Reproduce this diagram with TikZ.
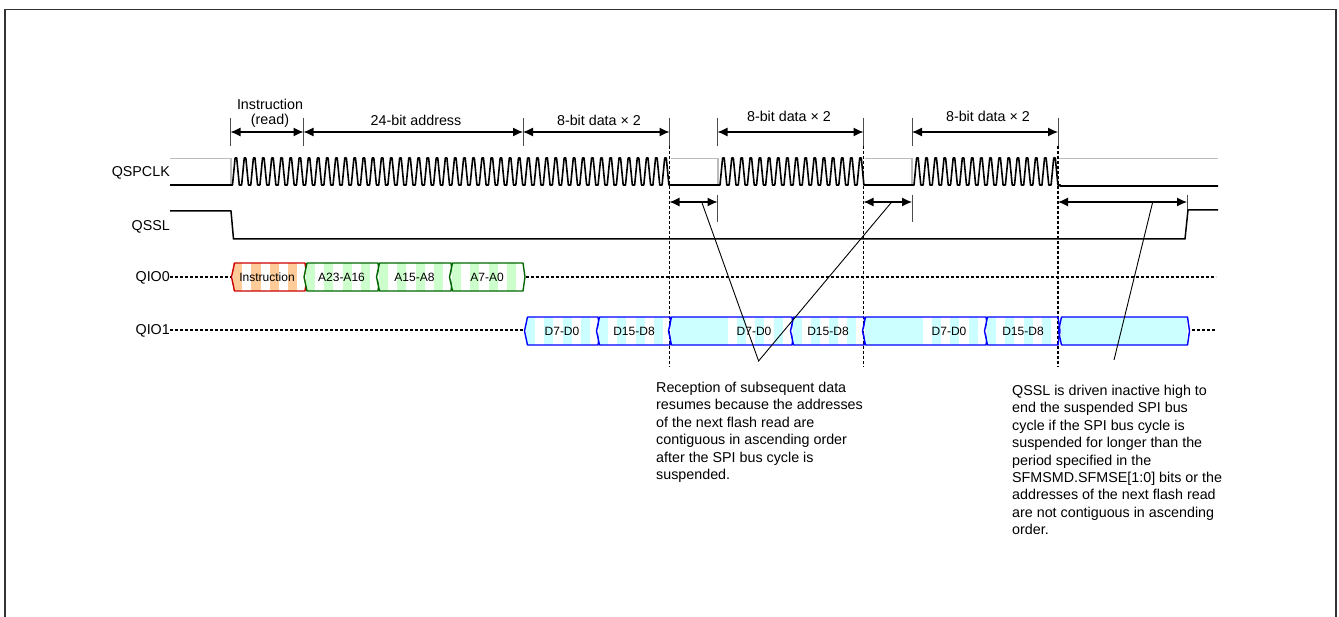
\documentclass[tikz,border=0pt]{standalone}
\usepackage{fontspec}
\setmainfont{Liberation Sans}
\usepackage{xcolor}
\usetikzlibrary{arrows.meta}
\definecolor{clkgrey}{HTML}{BBBBBB}
\definecolor{instred}{HTML}{CC0000}
\definecolor{instorange}{HTML}{FFCC99}
\definecolor{addrgreen}{HTML}{006600}
\definecolor{addrlight}{HTML}{CCFFCC}
\definecolor{datablue}{HTML}{0000FF}
\definecolor{datalight}{HTML}{CCFFFF}
\newcommand{\busseg}[9]{%
  % #1 name, #2 left, #3 right, #4 top, #5 bottom, #6 line, #7 stripe, #8 stripe starts, #9 label at
  \foreach \s in {#8} {\fill[#7] (\s,#4) rectangle (\s+9.3,#5);}
  \draw[#6,line width=1.4pt,line join=round] (#2+1.5,#4) -- (#3,#4) -- (#3+2,{(#4+#5)/2}) -- (#3,#5) -- (#2+1.5,#5) -- (#2-1.5,{(#4+#5)/2}) -- cycle;
  \coordinate (#1) at (#9,{(#4+#5)/2});
}
\begin{document}
\begin{tikzpicture}[x=1pt,y=-1pt,
      siglabel/.style={font=\fontsize{14.3}{17.4}\selectfont,anchor=east,inner sep=0pt},
      dimlabel/.style={font=\fontsize{14.3}{15}\selectfont,align=center,inner sep=0pt},
      buslabel/.style={font=\fontsize{12}{14}\selectfont,inner sep=0pt},
      notetext/.style={font=\fontsize{14.3}{17.4}\selectfont,align=left,anchor=north west,inner sep=0pt},
      clk/.style={line width=1.6pt,line join=round},
      clkhigh/.style={clkgrey,line width=1.4pt},
      sig/.style={line width=1.5pt,line join=round},
      tick/.style={draw=black!70,line width=0.9pt},
      dotline/.style={line width=1.4pt,dash pattern=on 2.6pt off 2.4pt},
      dim/.style={{Latex[length=10pt,width=9pt]}-{Latex[length=10pt,width=9pt]},line width=1.2pt},
      lead/.style={line width=0.9pt}]
    \useasboundingbox (0,0) rectangle (1339,617);
    %% ── Frame ────────────────────────────────────────────────
    \draw[line width=1.5pt,black!80] (5,617) -- (5,9.5) -- (1336,9.5) -- (1336,617);
    %% ── Signal names ─────────────────────────────────────────
    \node[siglabel] (qspclk) at (170,172.5) {QSPCLK};
    \node[siglabel] (qssl)   at (170,226.5) {QSSL};
    \node[siglabel] (qio0)   at (170,278) {QIO0};
    \node[siglabel] (qio1)   at (170,331) {QIO1};
    %% ── Marks and time points ───────────────────────────────
    \foreach \n/\x in {a/230.5,b/303.5,c/523,d/669.5,e/717.5,f/863.5,g/912,h/1058} {
      \coordinate (top\n) at (\x,118);
      \coordinate (mid\n) at (\x,132);
      \coordinate (bot\n) at (\x,146);
      \coordinate (lowtop\n) at (\x,195);
      \coordinate (low\n) at (\x,202);
      \coordinate (lowbot\n) at (\x,222);
      \coordinate (end\n) at (\x,367);
      \draw[tick] (top\n) -- (bot\n);
    }
    \draw[tick] (lowtope) -- (lowbote);
    \draw[tick] (lowtopg) -- (lowbotg);
    \coordinate (lowtopi) at (1187,195);
    \coordinate (lowi)    at (1187,202);
    \coordinate (lowboti) at (1187,211);
    \draw[tick] (lowtopi) -- (lowboti);
    %% ── Clock high level (grey) ─────────────────────────────
    \draw[clkhigh] (170,158.5) -- (231,158.5) -- (231,184);
    \draw[clkhigh] (671,158.5) -- (718,158.5) -- (718,184);
    \draw[clkhigh] (865,158.5) -- (912,158.5) -- (912,184);
    \draw[clkhigh] (1059,158.5) -- (1218,158.5);
    %% ── Clock ────────────────────────────────────────────────
    \draw[clk] (170,185) -- (232.5,185) \foreach \k in {1,...,48} {-- ++(2.6,-27) -- ++(1.6,0) -- ++(2.6,27) -- ++(2.34,0)} coordinate (clkenda);
    \draw[clk] (clkenda) -- (720,185) \foreach \k in {1,...,16} {-- ++(2.6,-27) -- ++(1.6,0) -- ++(2.6,27) -- ++(2.34,0)} coordinate (clkendb);
    \draw[clk] (clkendb) -- (914,185) \foreach \k in {1,...,16} {-- ++(2.6,-27) -- ++(1.6,0) -- ++(2.6,27) -- ++(2.34,0)} -- (1060,186) -- (1218,186);
    %% ── QSSL ─────────────────────────────────────────────────
    \draw[sig] (170,211) -- (231,211) -- (233.5,239) -- (1185,239) -- (1188,210) -- (1218,210);
    %% ── QIO0 / QIO1 dotted levels ───────────────────────────
    \draw[dotline] ([yshift=1pt]qio0.east) -- (231,277);
    \draw[dotline] (526,277) -- (1216,277);
    \draw[dotline] ([yshift=1pt]qio1.east) -- (524,330);
    \draw[dotline] (1192,330) -- (1216,330);
    %% ── Vertical dotted guides ──────────────────────────────
    \draw[dotline] (botd) -- (endd);
    \draw[dotline] (botf) -- (endf);
    \draw[dotline] (both) -- (endh);
    %% ── QIO0 bus ─────────────────────────────────────────────
    \busseg{busi}{233}{305}{263}{291}{instred}{instorange}{233,251.3,269.6,287.9}{267}
    \busseg{busa}{305.5}{378}{263}{291}{addrgreen}{addrlight}{306,324,342.5,361}{341.5}
    \busseg{busb}{378}{451}{263}{291}{addrgreen}{addrlight}{379,397,415.5,434}{414.5}
    \busseg{busc}{451}{523}{263}{291}{addrgreen}{addrlight}{452,470,488.5,507}{487}
    \node[buslabel] (txti) at (busi) {Instruction};
    \node[buslabel] (txta) at (busa) {A23-A16};
    \node[buslabel] (txtb) at (busb) {A15-A8};
    \node[buslabel] (txtc) at (busc) {A7-A0};
    %% ── QIO1 bus ─────────────────────────────────────────────
    \busseg{busd}{526}{598}{317}{345}{datablue}{datalight}{526,544,562.5,581}{562}
    \busseg{buse}{598}{670}{317}{345}{datablue}{datalight}{599,617,635.5,654}{634}
    \busseg{busf}{670}{792}{317}{345}{datablue}{datalight}{671,680,689,698,707,716,719,737,755,774}{754}
    \busseg{busg}{792}{864}{317}{345}{datablue}{datalight}{792.5,810.5,829,847}{828}
    \busseg{bush}{864}{986}{317}{345}{datablue}{datalight}{865,874,883,892,901,910,914,932,950,969}{949}
    \busseg{busj}{986}{1058}{317}{345}{datablue}{datalight}{987,1005,1023.5,1042}{1023}
    \busseg{busk}{1060}{1187.5}{317}{345}{datablue}{datalight}{1061,1070,1079,1088,1097,1106,1115,1124,1133,1142,1151,1160,1169,1178}{1120}
    \node[buslabel] (txtd) at (busd) {D7-D0};
    \node[buslabel] (txte) at (buse) {D15-D8};
    \node[buslabel] (txtf) at (busf) {D7-D0};
    \node[buslabel] (txtg) at (busg) {D15-D8};
    \node[buslabel] (txth) at (bush) {D7-D0};
    \node[buslabel] (txtj) at (busj) {D15-D8};
    %% ── Dimension arrows ─────────────────────────────────────
    \draw[dim] (mida) -- (midb);
    \draw[dim] (midb) -- (midc);
    \draw[dim] (midc) -- (midd);
    \draw[dim] (mide) -- (midf);
    \draw[dim] (midg) -- (midh);
    \draw[dim] (lowd) -- (lowe);
    \draw[dim] (lowf) -- (lowg);
    \draw[dim] (lowh) -- (lowi);
    %% ── Dimension labels ─────────────────────────────────────
    \node[dimlabel] (instlbl) at (270,113) {Instruction\\(read)};
    \node[dimlabel] (addrlbl) at (416,120) {24-bit address};
    \node[dimlabel] (dataa)   at (599,120) {8-bit data × 2};
    \node[dimlabel] (datab)   at (789,116) {8-bit data × 2};
    \node[dimlabel] (datac)   at (988,116) {8-bit data × 2};
    %% ── Leader lines and notes ──────────────────────────────
    \coordinate (leadfrom) at (701.7,202);
    \coordinate (leadfromb) at (891.7,202);
    \coordinate (leadfromc) at (1152.7,202);
    \coordinate (leadto) at (758.6,361);
    \coordinate (leadtoc) at (1114,360);
    \draw[lead] (leadfrom) -- (leadto) -- (leadfromb);
    \draw[lead] (leadfromc) -- (leadtoc);
    \node[notetext] (noteres) at (656,382) {Reception of subsequent data\\resumes because the addresses\\of the next flash read are\\contiguous in ascending order\\after the SPI bus cycle is\\suspended.};
    \node[notetext] (noteend) at (1012,385) {QSSL is driven inactive high to\\end the suspended SPI bus\\cycle if the SPI bus cycle is\\suspended for longer than the\\period specified in the\\SFMSMD.SFMSE[1:0] bits or the\\addresses of the next flash read\\are not contiguous in ascending\\order.};
  \end{tikzpicture}
\end{document}
